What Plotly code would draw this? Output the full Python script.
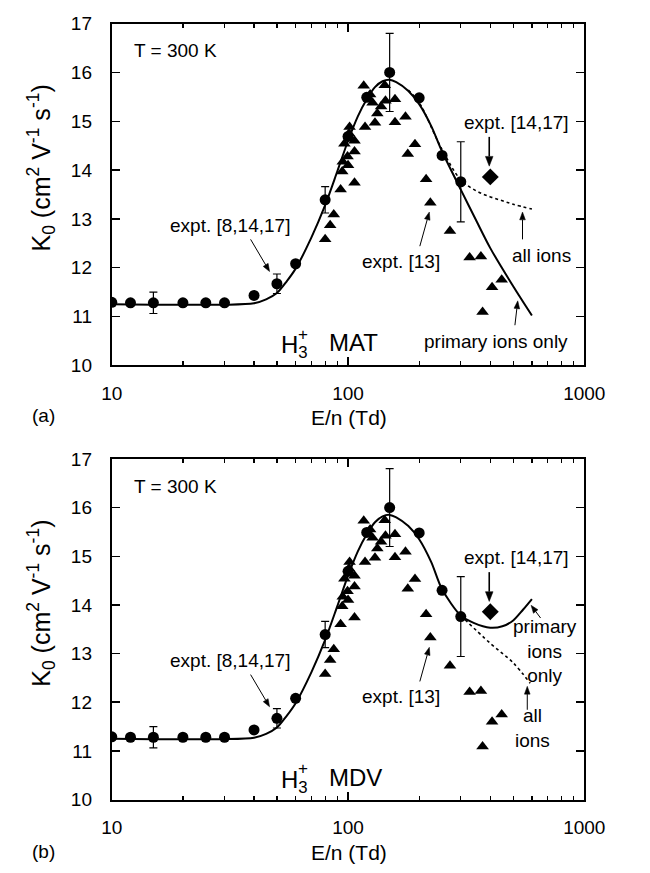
import numpy as np
import plotly.graph_objects as go

# ---------------- data ----------------
# expt. [8,14,17]  (filled circles) with error bars
circ_x = [10, 12, 15, 20, 25, 30, 40, 50, 60, 80, 100, 120, 150, 200, 250, 300]
circ_y = [11.29, 11.28, 11.28, 11.28, 11.28, 11.28, 11.43, 11.67, 12.08, 13.39,
          14.69, 15.49, 16.0, 15.48, 14.3, 13.76]
circ_err = [0, 0, 0.22, 0, 0, 0, 0, 0.2, 0, 0.27, 0, 0, 0.8, 0, 0, 0.82]

# expt. [13]  (filled triangles)
tri_x = [80, 84, 87, 93, 94.5, 95, 96.5, 99.5, 100, 101, 101.5, 106.5, 106.5, 106.5,
         116.5, 118, 124, 127, 130, 133, 138, 143, 144, 158, 158, 175, 179, 192,
         214, 223, 270, 327, 365, 371, 407, 447]
tri_y = [12.58, 12.87, 13.09, 13.6, 13.97, 14.17, 14.54, 14.28, 14.1, 14.75, 14.88,
         13.74, 14.38, 14.6,
         15.73, 14.88, 15.55, 15.38, 14.97, 15.16, 15.3, 15.74, 15.42, 15.45, 14.98,
         15.09, 14.33, 14.53, 13.81, 13.33, 12.75, 12.21, 12.23, 11.09, 11.6, 11.75]

# expt. [14,17]  (diamond)
dia_x = [400]
dia_y = [13.86]

# (a) MAT theory
mat_prim_x = [10, 15, 20, 30, 40, 45, 50, 55, 60, 70, 80, 90, 100, 110, 120, 130,
              140, 150, 160, 180, 200, 225, 250, 300, 350, 400, 500, 600]
mat_prim_y = [11.25, 11.24, 11.24, 11.24, 11.27, 11.35, 11.48, 11.72, 11.98, 12.62,
              13.28, 13.97, 14.6, 15.1, 15.45, 15.7, 15.82, 15.85, 15.8, 15.62,
              15.35, 14.9, 14.38, 13.6, 12.95, 12.4, 11.62, 11.02]
mat_all_x = [180, 200, 250, 300, 350, 400, 450, 500, 600]
mat_all_y = [15.64, 15.38, 14.42, 13.8, 13.57, 13.45, 13.37, 13.3, 13.2]

# (b) MDV theory
mdv_prim_x = [10, 15, 20, 30, 40, 45, 50, 55, 60, 70, 80, 90, 100, 110, 120, 130,
              140, 150, 160, 180, 200, 225, 250, 300, 340, 400, 450, 500, 550, 600]
mdv_prim_y = [11.25, 11.24, 11.24, 11.24, 11.27, 11.35, 11.48, 11.72, 11.98, 12.62,
              13.28, 13.97, 14.6, 15.1, 15.45, 15.7, 15.82, 15.85, 15.8, 15.62,
              15.35, 14.88, 14.32, 13.78, 13.63, 13.53, 13.56, 13.68, 13.9, 14.12]
mdv_all_x = [300, 400, 500, 590]
mdv_all_y = [13.78, 13.21, 12.81, 12.39]

x_tick_vals = [10, 100, 1000]
x_minor_vals = [20, 30, 40, 50, 60, 70, 80, 90, 200, 300, 400, 500, 600, 700, 800, 900]
y_tick_vals = [10, 11, 12, 13, 14, 15, 16, 17]

FONT = "Liberation Sans, Arial, Helvetica, sans-serif"
W, H = 650, 873
AFS = 19  # annotation font size

fig = go.Figure()


def add_panel(xa, ya, prim_x, prim_y, all_x, all_y):
    fig.add_trace(go.Scatter(x=all_x, y=all_y, mode="lines", xaxis=xa, yaxis=ya,
                             line=dict(color="black", width=1.6, dash="dot", shape="spline"),
                             showlegend=False, hoverinfo="skip"))
    fig.add_trace(go.Scatter(x=prim_x, y=prim_y, mode="lines", xaxis=xa, yaxis=ya,
                             line=dict(color="black", width=2, shape="spline", smoothing=0.8),
                             showlegend=False, hoverinfo="skip"))
    fig.add_trace(go.Scatter(x=tri_x, y=tri_y, mode="markers", xaxis=xa, yaxis=ya,
                             marker=dict(symbol="triangle-up", size=11, color="black"),
                             showlegend=False))
    fig.add_trace(go.Scatter(x=circ_x, y=circ_y, mode="markers", xaxis=xa, yaxis=ya,
                             marker=dict(symbol="circle", size=11, color="black"),
                             error_y=dict(type="data", array=circ_err, visible=True,
                                          color="black", thickness=1.2, width=4),
                             showlegend=False))
    fig.add_trace(go.Scatter(x=dia_x, y=dia_y, mode="markers", xaxis=xa, yaxis=ya,
                             marker=dict(symbol="diamond", size=13, color="black"),
                             showlegend=False))


add_panel("x", "y", mat_prim_x, mat_prim_y, mat_all_x, mat_all_y)
add_panel("x2", "y2", mdv_prim_x, mdv_prim_y, mdv_all_x, mdv_all_y)

x_dom = [106 / W, 603 / W]
ya_dom = [1 - 364 / H, 1 - 14 / H]
yb_dom = [1 - 809 / H, 1 - 460 / H]

xcommon = dict(type="log", range=[1, 3], domain=x_dom, showline=True, linecolor="black",
               linewidth=2, mirror="allticks", ticks="inside", ticklen=8, tickwidth=1.5,
               tickcolor="black", tickvals=x_tick_vals, ticktext=["10", "100", "1000"],
               minor=dict(tickvals=x_minor_vals, ticks="inside", ticklen=4,
                          tickcolor="black", tickwidth=1.2),
               showgrid=False, zeroline=False, ticklabelstandoff=10,
               tickfont=dict(family=FONT, size=19, color="black"))
ycommon = dict(range=[10, 17], showline=True, linecolor="black", linewidth=2,
               mirror="allticks", ticks="inside", ticklen=8, tickwidth=1.5,
               tickcolor="black", tickvals=y_tick_vals, showgrid=False, zeroline=False,
               ticklabelstandoff=14, tickfont=dict(family=FONT, size=19, color="black"))

fig.update_layout(
    width=W, height=H, margin=dict(l=0, r=0, t=0, b=0),
    paper_bgcolor="white", plot_bgcolor="white", showlegend=False,
    xaxis=dict(xcommon, anchor="y"),
    yaxis=dict(ycommon, domain=ya_dom, anchor="x"),
    xaxis2=dict(xcommon, anchor="y2"),
    yaxis2=dict(ycommon, domain=yb_dom, anchor="x2"),
)

ann = []
shapes = []
L = np.log10


def txt(xr, yr, x, y, text, size=AFS, xanchor="center", yanchor="middle"):
    ann.append(dict(xref=xr, yref=yr, x=L(x), y=y, text=text, showarrow=False,
                    xanchor=xanchor, yanchor=yanchor,
                    font=dict(family=FONT, size=size, color="black")))


def arrow(tail, tip, lw=1.0, hl=8.0, hw=3.0):
    """Arrow drawn as shapes; tail/tip given in page pixels."""
    t0 = np.array(tail, float)
    t1 = np.array(tip, float)
    u = (t1 - t0) / np.linalg.norm(t1 - t0)
    p = np.array([-u[1], u[0]])
    base = t1 - u * hl
    P = lambda q: (q[0] / W, 1 - q[1] / H)
    a, b = P(t0), P(base)
    shapes.append(dict(type="line", xref="paper", yref="paper", x0=a[0], y0=a[1],
                       x1=b[0], y1=b[1], line=dict(color="black", width=lw)))
    c1, c2, c3 = P(t1), P(base + p * hw), P(base - p * hw)
    shapes.append(dict(type="path", xref="paper", yref="paper",
                       path=f"M {c1[0]},{c1[1]} L {c2[0]},{c2[1]} L {c3[0]},{c3[1]} Z",
                       fillcolor="black", line=dict(color="black", width=0.5)))


for xr, yr, label, off in [("x", "y", "MAT", 0), ("x2", "y2", "MDV", 446)]:
    txt(xr, yr, 12.15, 16.44, "T = 300 K", xanchor="left")
    txt(xr, yr, 31.8, 12.86, "expt. [8,14,17]")
    arrow((252, 235 + off), (272, 268 + off))
    txt(xr, yr, 167, 12.12, "expt. [13]")
    arrow((430, 242 + off), (440, 207 + off))
    txt(xr, yr, 518, 14.98, "expt. [14,17]")
    arrow((503, 130 + off), (503, 160 + off), lw=1.6, hl=10, hw=4)
    txt(xr, yr, 51.1, 10.38, "H<sub>3</sub>", size=24, xanchor="left")
    txt(xr, yr, 64.4, 10.64, "+", size=17, xanchor="center")
    txt(xr, yr, 81.1, 10.46, label, size=24, xanchor="left")

# panel (a) specific
txt("x", "y", 659, 12.24, "all ions")
arrow((538, 235), (538, 207))
txt("x", "y", 423, 10.48, "primary ions only")
arrow((530, 323), (533, 298))

# panel (b) specific
txt("x2", "y2", 684, 13.06, "primary<br>ions<br>only")
arrow((557, 623), (547, 610))
txt("x2", "y2", 601, 11.48, "all<br>ions")
arrow((543, 717), (543, 693))

# axis titles and panel labels (paper coords)
ytitle = "K<sub>0</sub> (cm<sup>2</sup> V<sup>-1</sup> s<sup>-1</sup>)"
for yc, xl_y, pl, pl_y in [(162, 418, "(a)", 416), (608, 863, "(b)", 862)]:
    ann.append(dict(xref="paper", yref="paper", x=32 / W, y=1 - yc / H, text=ytitle,
                    textangle=-90, showarrow=False, xanchor="center", yanchor="middle",
                    font=dict(family=FONT, size=25, color="black")))
    ann.append(dict(xref="paper", yref="paper", x=355 / W, y=1 - xl_y / H, text="E/n (Td)",
                    showarrow=False, xanchor="center", yanchor="middle",
                    font=dict(family=FONT, size=21, color="black")))
    ann.append(dict(xref="paper", yref="paper", x=34 / W, y=1 - pl_y / H, text=pl,
                    showarrow=False, xanchor="center", yanchor="middle",
                    font=dict(family=FONT, size=19, color="black")))

fig.update_layout(annotations=ann, shapes=shapes)
fig.write_html("out.html",
               config={"displayModeBar": False, "staticPlot": True},
               post_script="document.body.style.margin='0';"
                           "document.body.style.overflow='hidden';")
